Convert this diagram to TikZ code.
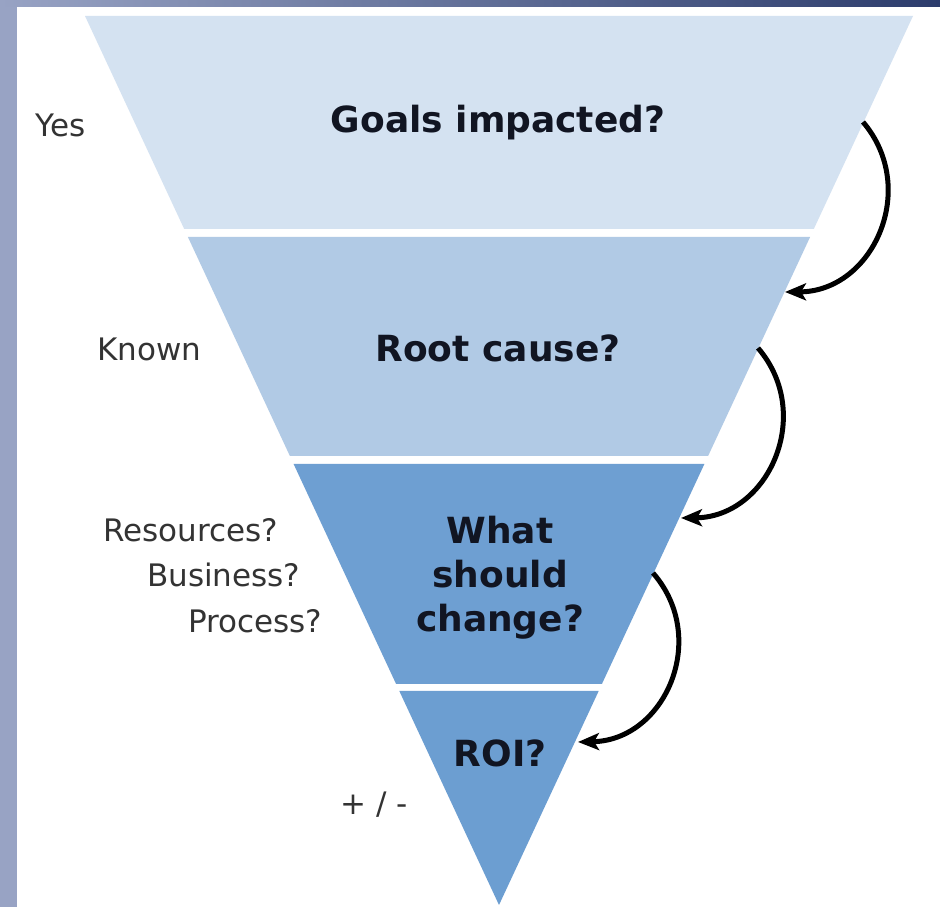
\documentclass[tikz,border=0pt]{standalone}
\usepackage{fontspec}
\setmainfont{DejaVu Sans}
\usepackage{xcolor}
\usetikzlibrary{arrows.meta}

\definecolor{bandA}{HTML}{D4E2F1}
\definecolor{bandB}{HTML}{B1CAE5}
\definecolor{bandC}{HTML}{6E9FD2}
\definecolor{bandD}{HTML}{6C9ED1}
\definecolor{frameL}{HTML}{98A3C4}
\definecolor{frameR}{HTML}{2C3C6C}
\definecolor{labelgray}{HTML}{333333}
\definecolor{titleink}{HTML}{111522}

\begin{document}
\begin{tikzpicture}[x=1pt, y=1pt,
  question/.style={font=\fontsize{36}{44}\selectfont\bfseries, text=titleink, align=center, inner sep=0pt},
  answer/.style={font=\fontsize{31}{45}\selectfont, text=labelgray, inner sep=0pt},
  flow/.style={-{Stealth[length=21pt,width=17pt,inset=5pt]}, line width=5pt, bend left=65, looseness=1.2}]
  \useasboundingbox (0,0) rectangle (940,907);
  % slide frame
  \fill[white] (0,0) rectangle (940,907);
  \fill[frameL] (0,0) rectangle (17,907);
  \shade[left color=frameL, right color=frameR] (0,900) rectangle (940,907);

  % funnel bands, top to bottom
  \fill[bandA] (85,891) -- (913,891) -- (813.8,678) -- (184.2,678) -- cycle;
  \fill[bandB] (187.9,670) -- (810.1,670) -- (708.1,451) -- (289.9,451) -- cycle;
  \fill[bandC] (293.6,443) -- (704.4,443) -- (601.9,223) -- (396.1,223) -- cycle;
  \fill[bandD] (399.3,216) -- (598.7,216) -- (499,2) -- cycle;

  \node[question, anchor=base] (goals) at (498,774) {Goals impacted?};
  \node[question, anchor=base] (cause) at (498,545) {Root cause?};
  \node[question] (change) at (500,329) {What\\should\\change?};
  \node[question, anchor=base] (roi) at (500,140) {ROI?};

  \node[answer, anchor=base west] (yes) at (35,770) {Yes};
  \node[answer, anchor=base west] (known) at (97,546) {Known};
  \node[answer, anchor=base west] (resources) at (103,365) {Resources?};
  \node[answer, anchor=base west] (business) at (147,320) {Business?};
  \node[answer, anchor=base west] (process) at (188,274) {Process?};
  \node[answer, anchor=base west] (plusminus) at (340,92) {+ / -};

  % hand-over arrows along the right edge
  \coordinate (out1) at (863,785);
  \coordinate (in2) at (785,615);
  \coordinate (out2) at (758,559);
  \coordinate (in3) at (681,389);
  \coordinate (out3) at (653,334);
  \coordinate (in4) at (578,165);
  \draw[flow] (out1) to (in2);
  \draw[flow] (out2) to (in3);
  \draw[flow] (out3) to (in4);
\end{tikzpicture}
\end{document}
